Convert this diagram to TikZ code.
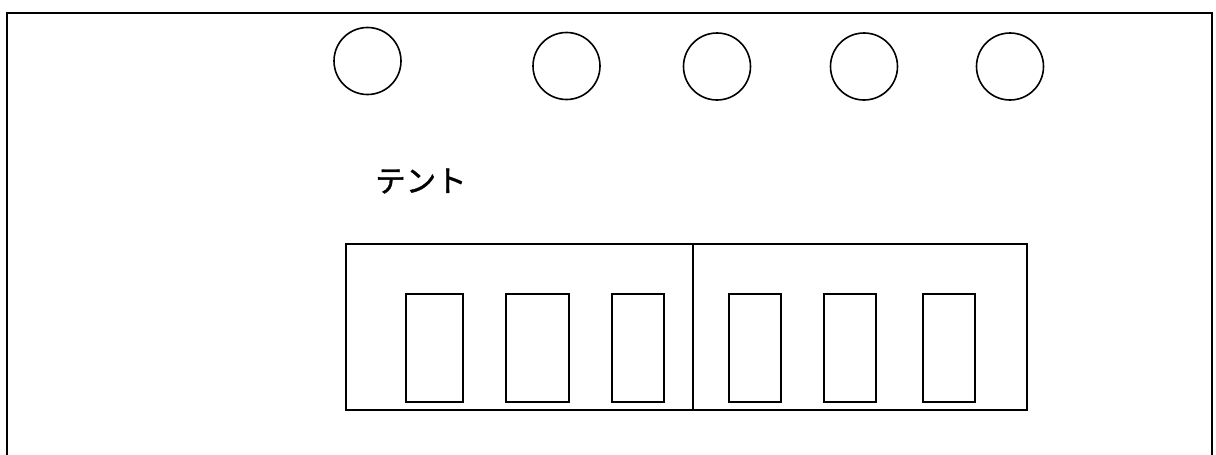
\documentclass[tikz,border=0pt]{standalone}
\usepackage{fontspec}
\newfontfamily\jpfont[FakeBold=1.2]{Noto Sans CJK JP}
\begin{document}
\begin{tikzpicture}[x=1pt,y=-1pt,
  hole/.style={circle,draw,line width=1.6pt,minimum size=67pt,inner sep=0pt},
  half/.style={rectangle,draw,line width=1.1pt,inner sep=0pt},
  slot/.style={rectangle,draw,line width=1.1pt,inner sep=0pt,minimum height=108pt},
  lbl/.style={font=\jpfont\fontsize{30.5}{32}\selectfont,inner sep=0pt,anchor=west}]
\useasboundingbox (0,0) rectangle (1216,455);
\fill[white] (0,0) rectangle (1216,455);
% outer frame (bottom edge outside the picture)
\coordinate (fbl) at (7,458);
\coordinate (ftl) at (7,13);
\coordinate (ftr) at (1212,13);
\coordinate (fbr) at (1212,458);
\draw[line width=1.2pt] (fbl) -- (ftl) -- (ftr) -- (fbr);
% circles
\node[hole] (c1) at (367.5,61) {};
\node[hole] (c2) at (566.5,66) {};
\node[hole] (c3) at (717,66.5) {};
\node[hole] (c4) at (864,66.5) {};
\node[hole] (c5) at (1010,66.5) {};
% label
\node[lbl] (t) at (375,181) {テント};
% tent halves
\node[half,minimum width=347pt,minimum height=166pt] (hl) at (519.5,327) {};
\node[half,minimum width=334pt,minimum height=166pt] (hr) at (860,327) {};
% slots
\node[slot,minimum width=57pt] (s1) at (434.5,348) {};
\node[slot,minimum width=63pt] (s2) at (537.5,348) {};
\node[slot,minimum width=52pt] (s3) at (638,348) {};
\node[slot,minimum width=52pt] (s4) at (755,348) {};
\node[slot,minimum width=52pt] (s5) at (850,348) {};
\node[slot,minimum width=52pt] (s6) at (949,348) {};
\end{tikzpicture}
\end{document}
